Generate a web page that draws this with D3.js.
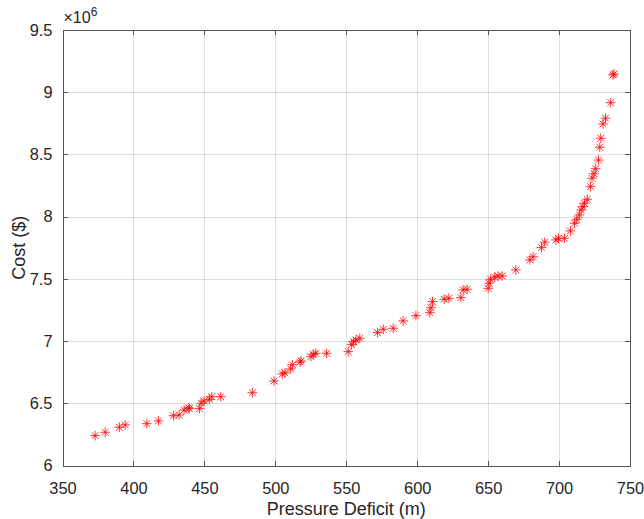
<!DOCTYPE html>
<meta charset="utf-8">
<style>
html, body { margin: 0; background: #fff; }
svg text { font-family: "Liberation Sans", Arial, sans-serif; fill: #262626; }
.axis path, .axis line { stroke: #555; shape-rendering: crispEdges; }
.grid line { stroke: #262626; stroke-opacity: 0.15; shape-rendering: crispEdges; }
.grid path { stroke-width: 0; }
.pt line { stroke: #ff0000; stroke-width: 0.8; }
</style>
<body></body>
<script src="https://d3js.org/d3.v7.min.js"></script>
<script>
// pressure deficit (m) vs cost ($, x1e6)
var deficit = [373.0, 380.1, 390.1, 394.2, 409.4, 417.6, 428.2, 432.2, 435.7, 439.4,
  439.0, 446.5, 447.7, 449.8, 453.5, 455.2, 461.5, 483.8, 499.1, 504.9,
  506.8, 510.8, 512.0, 517.4, 518.1, 525.1, 526.8, 528.5, 536.2, 551.4,
  553.8, 555.2, 556.8, 559.6, 572.1, 576.1, 583.1, 590.1, 599.1, 608.9,
  609.7, 610.8, 619.0, 622.3, 630.8, 632.4, 635.2, 650.0, 650.7, 651.7,
  654.7, 657.0, 659.9, 669.5, 679.4, 681.7, 687.6, 689.9, 697.8, 699.6,
  703.8, 708.0, 710.9, 712.5, 714.4, 715.6, 716.8, 717.9, 719.9, 722.2,
  723.2, 724.6, 725.8, 727.8, 728.7, 729.4, 731.0, 732.7, 736.4, 738.0, 738.7];
var cost = [6.240, 6.267, 6.307, 6.326, 6.336, 6.358, 6.400, 6.406, 6.446, 6.457,
  6.465, 6.457, 6.500, 6.518, 6.532, 6.553, 6.553, 6.585, 6.679, 6.736,
  6.744, 6.776, 6.810, 6.830, 6.840, 6.875, 6.894, 6.902, 6.902, 6.915,
  6.971, 6.995, 7.009, 7.023, 7.068, 7.095, 7.103, 7.162, 7.204, 7.228,
  7.268, 7.317, 7.336, 7.344, 7.349, 7.411, 7.416, 7.424, 7.465, 7.497,
  7.513, 7.523, 7.523, 7.572, 7.652, 7.678, 7.751, 7.795, 7.813, 7.826,
  7.826, 7.885, 7.947, 7.979, 8.014, 8.054, 8.080, 8.108, 8.140, 8.241,
  8.309, 8.345, 8.385, 8.455, 8.558, 8.630, 8.745, 8.791, 8.916, 9.139, 9.147];

var xTicks = [350, 400, 450, 500, 550, 600, 650, 700, 750];
var yTicks = [6, 6.5, 7, 7.5, 8, 8.5, 9, 9.5];

var W = 644, H = 519;
var margin = {top: 30, right: 14, bottom: 53.5, left: 62.5},
    width = W - margin.left - margin.right,
    height = H - margin.top - margin.bottom;

var x = d3.scaleLinear().domain([350, 750]).range([0, width]);
var y = d3.scaleLinear().domain([6, 9.5]).range([height, 0]);

var svg = d3.select("body").append("svg")
    .attr("width", W).attr("height", H)
  .append("g")
    .attr("transform", "translate(" + margin.left + "," + margin.top + ")");

// grid
svg.append("g").attr("class", "grid")
    .attr("transform", "translate(0," + height + ")")
    .call(d3.axisBottom(x).tickValues(xTicks).tickSize(-height).tickFormat(""));
svg.append("g").attr("class", "grid")
    .call(d3.axisLeft(y).tickValues(yTicks).tickSize(-width).tickFormat(""));

// axes, ticks inward on all sides
var fmt = d3.format("");
svg.append("g").attr("class", "axis")
    .attr("transform", "translate(0," + height + ")")
    .call(d3.axisBottom(x).tickValues(xTicks).tickSize(-5).tickSizeOuter(0).tickPadding(17).tickFormat(fmt));
svg.append("g").attr("class", "axis")
    .call(d3.axisLeft(y).tickValues(yTicks).tickSize(-5).tickSizeOuter(0).tickPadding(10).tickFormat(fmt));
svg.append("g").attr("class", "axis")
    .call(d3.axisTop(x).tickValues(xTicks).tickSize(-5).tickSizeOuter(0).tickFormat(""));
svg.append("g").attr("class", "axis")
    .attr("transform", "translate(" + width + ",0)")
    .call(d3.axisRight(y).tickValues(yTicks).tickSize(-5).tickSizeOuter(0).tickFormat(""));
svg.selectAll(".axis text").style("font-size", "16.4px");

// exponent
var ex = svg.append("text").attr("x", 1).attr("y", -7).style("font-size", "16px");
ex.append("tspan").text("\u00d710");
ex.append("tspan").attr("dy", -7).style("font-size", "12px").text("6");

// labels
svg.append("text").attr("x", width / 2).attr("y", height + 49)
    .attr("text-anchor", "middle").style("font-size", "18px").text("Pressure Deficit (m)");
svg.append("text").attr("transform", "translate(-38," + height / 2 + ") rotate(-90)")
    .attr("text-anchor", "middle").style("font-size", "18px").text("Cost ($)");

// asterisk markers
var r = 4.8, d = r * Math.SQRT1_2;
var pts = svg.append("g").selectAll("g").data(deficit).join("g")
    .attr("class", "pt")
    .attr("transform", function(v, i) { return "translate(" + x(v) + "," + y(cost[i]) + ")"; });
[[-r, 0, r, 0], [0, -r, 0, r], [-d, -d, d, d], [-d, d, d, -d]].forEach(function(s) {
  pts.append("line").attr("x1", s[0]).attr("y1", s[1]).attr("x2", s[2]).attr("y2", s[3]);
});
</script>
